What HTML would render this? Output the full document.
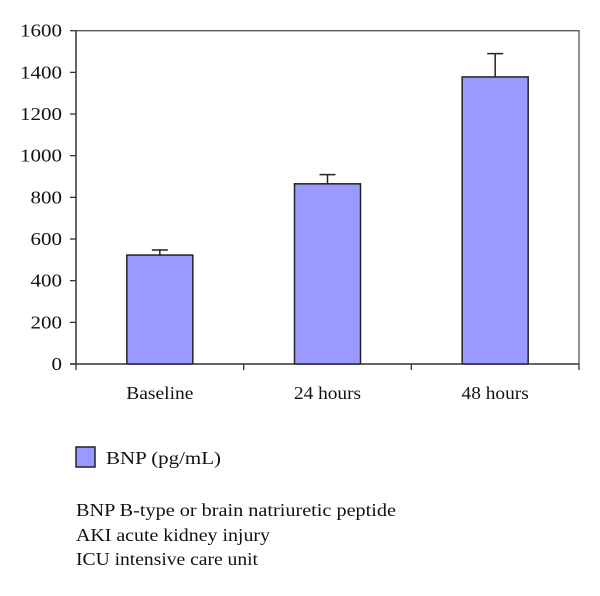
<!DOCTYPE html>
<html><head><meta charset="utf-8"><style>
body{margin:0;background:#fff;}
svg text{font-family:"Liberation Serif",serif;fill:#111;}
</style></head><body>
<svg width="600" height="591" xmlns="http://www.w3.org/2000/svg">
<g id="plot"></g>
<rect x="76" y="447" width="19" height="20" fill="#9999ff" stroke="#222" stroke-width="1.5"/>
<text x="106" y="464" font-size="18" textLength="115" lengthAdjust="spacingAndGlyphs">BNP (pg/mL)</text>
<text x="76" y="516" font-size="18" textLength="320" lengthAdjust="spacingAndGlyphs">BNP B-type or brain natriuretic peptide</text>
<text x="76" y="541" font-size="18" textLength="194" lengthAdjust="spacingAndGlyphs">AKI acute kidney injury</text>
<text x="76" y="565" font-size="18" textLength="182" lengthAdjust="spacingAndGlyphs">ICU intensive care unit</text>
</svg>
<script>
const categories=["Baseline","24 hours","48 hours"];
const values=[523,865,1378];
const errors=[24,44,112];
const yTicks=[0,200,400,600,800,1000,1200,1400,1600];
const NS="http://www.w3.org/2000/svg";
const g=document.getElementById('plot');
const L=76,R=579,T=30.7,B=364,yMax=1600;
const y=v=>B-(B-T)*v/yMax;
const band=(R-L)/categories.length;
const x=i=>L+band*(i+0.5);
const barW=66;
function mk(t,a){const e=document.createElementNS(NS,t);for(const k in a)e.setAttribute(k,a[k]);g.appendChild(e);return e;}
const frame=mk('path',{d:`M${L},${T}H${R}V${B}`,fill:'none',stroke:'#555','stroke-width':1.3});


yTicks.forEach(v=>{
  const tk=mk('line',{x1:L-6,x2:L,y1:y(v),y2:y(v),stroke:'#333','stroke-width':1.3});
  
  
  const s=String(v);
  const t=mk('text',{x:L-14,y:y(v)+6,'font-size':18,'text-anchor':'end',textLength:s.length*10.5,lengthAdjust:'spacingAndGlyphs'});
  t.textContent=s;
  
  
});
for(let i=0;i<=categories.length;i++){
  const tk=mk('line',{x1:L+band*i,x2:L+band*i,y1:B,y2:B+6,stroke:'#333','stroke-width':1.3});
  
  
}
categories.forEach((c,i)=>{
  const cx=x(i);
  const eb=mk('path',{d:`M${cx},${y(values[i])}V${y(values[i]+errors[i])}M${cx-8},${y(values[i]+errors[i])}H${cx+8}`,stroke:'#222','stroke-width':1.5,fill:'none'});
  
  
  const r=mk('rect',{x:cx-barW/2,y:y(values[i]),width:barW,height:B-y(values[i]),fill:'#9999ff',stroke:'#222','stroke-width':1.5});
  
  
  const t=mk('text',{x:cx,y:B+35,'font-size':18,'text-anchor':'middle',textLength:c.length*8.4,lengthAdjust:'spacingAndGlyphs'});
  t.textContent=c;
  
  
});
const ax=mk('line',{x1:L,x2:L,y1:T,y2:B,stroke:'#333','stroke-width':1.5});


const xa=mk('line',{x1:L-6,x2:R,y1:B,y2:B,stroke:'#333','stroke-width':1.5});


</script>
</body></html>
